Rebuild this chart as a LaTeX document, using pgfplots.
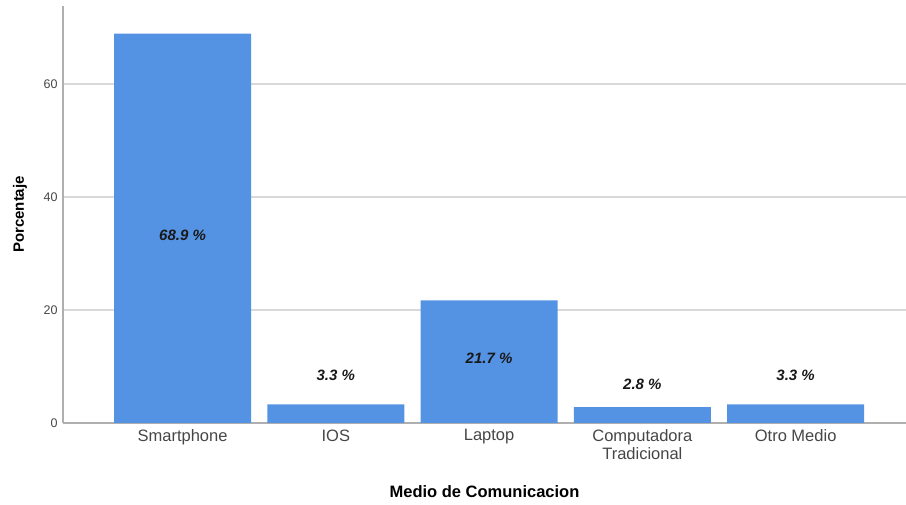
\documentclass[border=0pt]{standalone}
\usepackage{pgfplots}
\pgfplotsset{compat=1.18}
\usepackage{fontspec}
\setmainfont{Liberation Sans}
\definecolor{barblue}{RGB}{84,147,227}
\definecolor{gridgray}{RGB}{217,217,217}
\definecolor{axisgray}{RGB}{175,175,175}
\definecolor{ticktext}{RGB}{70,70,70}
\begin{document}
\begin{tikzpicture}[x=1pt,y=1pt]
\useasboundingbox (-63,-82) rectangle (843,423);
\begin{axis}[
  at={(0,0)}, anchor=south west,
  scale only axis, width=843pt, height=417pt,
  xmin=-0.78, xmax=4.72, ymin=0, ymax=73.8,
  ybar, bar width=0.894, bar shift=0pt,
  xtick={0,1,2,3,4},
  xticklabels={Smartphone,IOS,Laptop,{Computadora\\Tradicional},Otro Medio},
  xticklabel style={align=center, font=\fontsize{16.5}{18}\selectfont, text=ticktext},
  ytick={0,20,40,60},
  yticklabel style={font=\fontsize{12.5}{14}\selectfont, text=ticktext},
  /pgf/number format/assume math mode=true,
  major tick length=0pt,
  ymajorgrids, grid style={gridgray, line width=1.2pt},
  axis x line*=bottom, axis y line*=left,
  axis line style={axisgray, line width=1.6pt, -},
  xlabel={\bfseries Medio de Comunicacion},
  ylabel={\bfseries Porcentaje},
  xlabel style={font=\fontsize{16.5}{18}\selectfont, at={(axis description cs:0.5,0)}, anchor=center, yshift=-69pt},
  ylabel style={font=\fontsize{15}{17}\selectfont, at={(axis description cs:0,0.5)}, anchor=center, rotate=0, yshift=43pt},
  xticklabel shift=3pt, yticklabel shift=2pt,
  clip=false,
]
\addplot[fill=barblue, draw=none] coordinates {(0,68.9) (1,3.3) (2,21.7) (3,2.8) (4,3.3)};
\begin{scope}[every node/.style={font=\fontsize{15}{17}\selectfont\bfseries\itshape, text=black!90}]
\node at (axis cs:0,33.3) {68.9 \%};
\node at (axis cs:1,8.4) {3.3 \%};
\node at (axis cs:2,11.4) {21.7 \%};
\node at (axis cs:3,6.9) {2.8 \%};
\node at (axis cs:4,8.4) {3.3 \%};
\end{scope}
\end{axis}
\end{tikzpicture}
\end{document}
